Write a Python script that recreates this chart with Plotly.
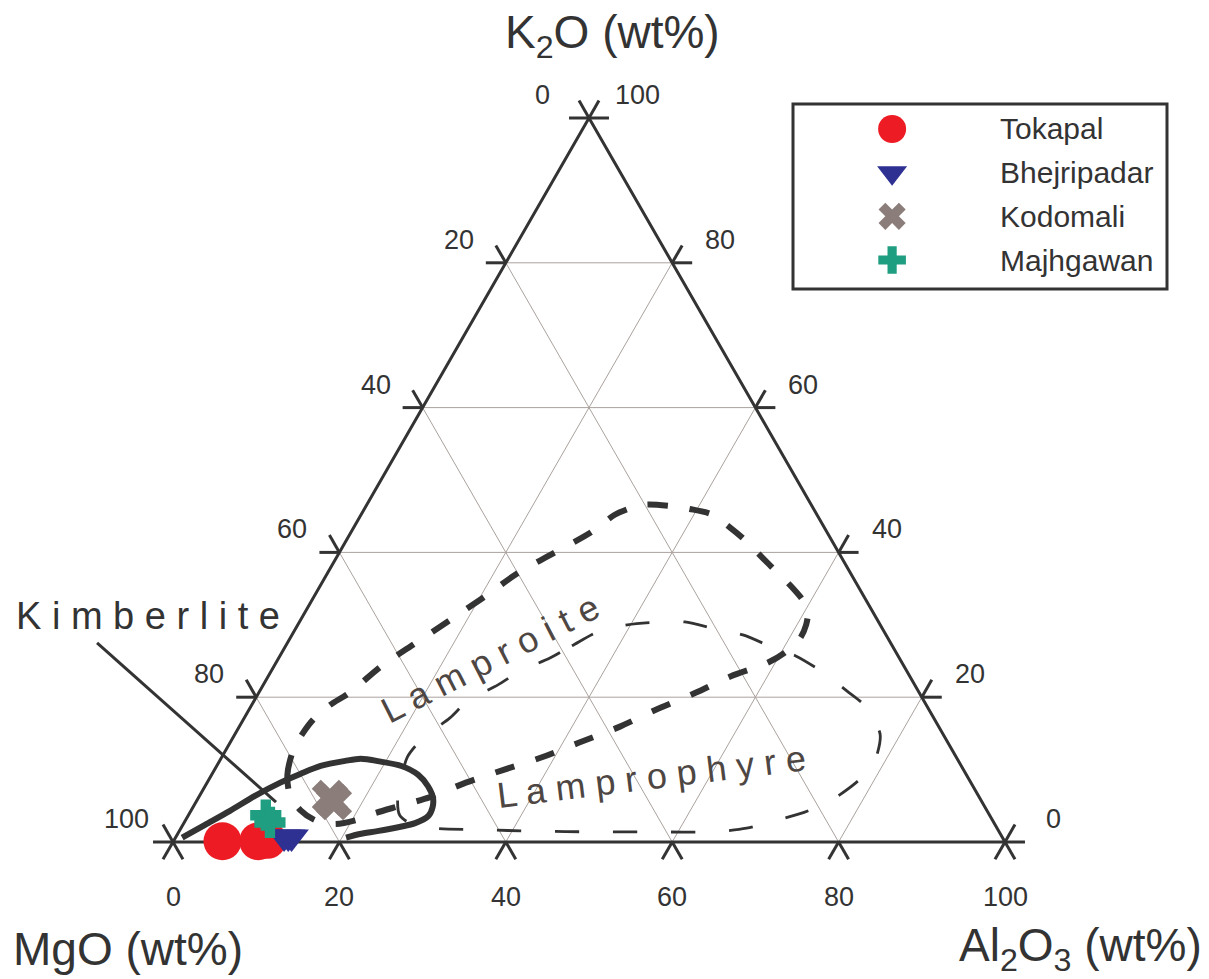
import plotly.graph_objects as go

# ---------------- data (wt%) ----------------
series_names = ["Tokapal", "Bhejripadar", "Kodomali", "Majhgawan"]
series_colors = ["#ed1c24", "#2e3192", "#8b7e7a", "#1f9e81"]
series_symbols = ["circle", "triangle-down", "x", "cross"]

tokapal_mgo = [94.0, 89.7, 88.5]
tokapal_al2o3 = [5.9, 10.2, 11.2]
tokapal_k2o = [0.1, 0.1, 0.3]

bhejripadar_mgo = [86.3, 85.8, 85.4]
bhejripadar_al2o3 = [13.0, 13.5, 13.9]
bhejripadar_k2o = [0.7, 0.7, 0.7]

kodomali_mgo = [78.1, 77.9]
kodomali_al2o3 = [15.8, 16.6]
kodomali_k2o = [6.1, 5.5]

majhgawan_mgo = [87.0, 87.0]
majhgawan_al2o3 = [9.3, 10.3]
majhgawan_k2o = [3.7, 2.7]

# field boundaries (Al2O3, K2O; MgO is the remainder to 100)
kimberlite_al2o3 = [0.8, 2.7, 4.7, 6.7, 8.8, 10.6, 12.5, 15.1, 16.8, 19.4, 22.2,
                    24.8, 26.8, 28.2, 28.8, 28.9, 27.8, 26.3, 23.8, 21.9, 20.5]
kimberlite_k2o = [0.6, 2.4, 4.3, 6.4, 8.2, 9.4, 10.5, 11.2, 11.5, 11.1, 10.5,
                  9.3, 7.7, 6.1, 4.8, 3.6, 2.6, 2.1, 1.5, 1.1, 0.6]

lamproite_al2o3 = [10.8, 9.1, 8.1, 8.1, 8.4, 9.4, 10.9, 12.9, 15.2, 18.0,
                   20.6, 22.9, 25.8, 28.8, 30.5, 31.9, 33.5, 36.7, 39.1, 42.0,
                   45.3, 47.6, 52.8, 56.4, 59.0, 60.4, 61.1, 61.3, 60.4, 59.0,
                   55.6, 52.5, 48.8, 45.7, 41.9, 38.5, 34.6, 31.1, 27.8, 24.8,
                   22.3, 20.4, 18.2, 15.6, 13.1, 10.8]
lamproite_k2o = [6.5, 9.3, 12.7, 15.1, 16.9, 18.9, 20.6, 24.3, 27.2, 30.7,
                 34.0, 37.2, 39.9, 42.7, 45.2, 46.1, 46.6, 46.4, 46.0, 45.3,
                 43.4, 41.9, 38.1, 35.5, 33.4, 31.8, 30.0, 28.2, 26.1, 24.7,
                 22.9, 20.6, 18.2, 15.9, 13.7, 11.7, 9.9, 8.2, 6.2, 5.0,
                 4.0, 3.0, 2.5, 3.0, 4.4, 6.5]

lamprophyre_al2o3 = [32.6, 34.4, 36.9, 39.6, 43.5, 46.3, 51.0, 54.2, 59.6, 62.0,
                     67.0, 70.5, 73.8, 76.1, 77.6, 78.5, 78.8, 78.0, 76.0, 73.8,
                     70.5, 68.0, 64.2, 57.2, 49.9, 42.9, 35.8, 30.4, 27.6, 25.4,
                     24.1, 23.4, 22.3, 22.9, 24.7, 25.7, 28.2, 29.9, 32.6]
lamprophyre_k2o = [25.4, 27.1, 29.3, 30.0, 30.4, 30.4, 29.3, 28.6, 26.5, 25.7,
                   23.1, 20.9, 18.8, 16.6, 14.8, 12.4, 10.4, 8.2, 5.5, 4.1,
                   2.8, 1.9, 1.4, 1.4, 1.4, 1.5, 1.7, 1.9, 2.4, 3.7,
                   5.8, 7.9, 11.7, 14.4, 17.1, 19.5, 21.7, 23.6, 25.4]

tick_values = [0, 20, 40, 60, 80, 100]
grid_values = [20, 40, 60, 80]

# field label positions (Al2O3, K2O)
lamproite_label = (25.5, 25.3)
lamprophyre_label = (53.0, 9.1)

FONT = "Liberation Sans, Arial, Helvetica, sans-serif"
DARK = "#333333"
GRID = "#aaa29e"
TICK_LEN = 2.4


def to_xy(mgo, al2o3, k2o):
    xs, ys = [], []
    for m, a, k in zip(mgo, al2o3, k2o):
        s = m + a + k
        xs.append(100.0 * (a + k / 2.0) / s)
        ys.append(100.0 * k / s)
    return xs, ys


def pt(m, a, k):
    x, y = to_xy([m], [a], [k])
    return x[0], y[0]


def field_xy(al, k):
    return to_xy([100 - a - kk for a, kk in zip(al, k)], al, k)


def segs(pairs):
    xs, ys = [], []
    for p, q in pairs:
        (x0, y0), (x1, y1) = pt(*p), pt(*q)
        xs += [x0, x1, None]
        ys += [y0, y1, None]
    return xs, ys


def spaced(word):
    return " ".join(word)


fig = go.Figure()

# grid lines
grid_pairs = []
for t in grid_values:
    grid_pairs.append(((100 - t, 0, t), (0, 100 - t, t)))      # const K2O
    grid_pairs.append(((t, 0, 100 - t), (t, 100 - t, 0)))      # const MgO
    grid_pairs.append(((100 - t, t, 0), (0, t, 100 - t)))      # const Al2O3
gx, gy = segs(grid_pairs)
fig.add_trace(go.Scatter(x=gx, y=gy, mode="lines", line=dict(color=GRID, width=1),
                         hoverinfo="skip", showlegend=False))

# frame
fx, fy = to_xy([100, 0, 0, 100], [0, 100, 0, 0], [0, 0, 100, 0])
fig.add_trace(go.Scatter(x=fx, y=fy, mode="lines", line=dict(color=DARK, width=3),
                         hoverinfo="skip", showlegend=False))

# ticks (outward extensions of grid directions)
d = TICK_LEN
tick_pairs = []
for t in tick_values:
    L = (t, 0, 100 - t)
    tick_pairs.append((L, (t + d, -d, 100 - t)))
    tick_pairs.append((L, (t, -d, 100 - t + d)))
    R = (0, 100 - t, t)
    tick_pairs.append((R, (-d, 100 - t + d, t)))
    tick_pairs.append((R, (-d, 100 - t, t + d)))
    B = (100 - t, t, 0)
    tick_pairs.append((B, (100 - t, t + d, -d)))
    tick_pairs.append((B, (100 - t + d, t, -d)))
tx, ty = segs(tick_pairs)
fig.add_trace(go.Scatter(x=tx, y=ty, mode="lines", line=dict(color=DARK, width=3),
                         hoverinfo="skip", showlegend=False))

# fields
lx, ly = field_xy(lamprophyre_al2o3, lamprophyre_k2o)
fig.add_trace(go.Scatter(x=lx, y=ly, mode="lines",
                         line=dict(color=DARK, width=2.8, dash="24px,34px", shape="spline", smoothing=0.8),
                         hoverinfo="skip", showlegend=False))
lx, ly = field_xy(lamproite_al2o3, lamproite_k2o)
fig.add_trace(go.Scatter(x=lx, y=ly, mode="lines",
                         line=dict(color=DARK, width=6, dash="20px,22px", shape="spline", smoothing=0.8),
                         hoverinfo="skip", showlegend=False))
lx, ly = field_xy(kimberlite_al2o3, kimberlite_k2o)
fig.add_trace(go.Scatter(x=lx, y=ly, mode="lines",
                         line=dict(color=DARK, width=6, shape="spline", smoothing=0.8),
                         hoverinfo="skip", showlegend=False))

# leader line for Kimberlite label
fig.add_trace(go.Scatter(x=[-9.13, 12.38], y=[27.49, 5.52], mode="lines",
                         line=dict(color=DARK, width=3), hoverinfo="skip", showlegend=False))

# samples
samples = [
    (tokapal_mgo, tokapal_al2o3, tokapal_k2o, 38),
    (bhejripadar_mgo, bhejripadar_al2o3, bhejripadar_k2o, 30),
    (kodomali_mgo, kodomali_al2o3, kodomali_k2o, 32),
    (majhgawan_mgo, majhgawan_al2o3, majhgawan_k2o, 26),
]
for (m, a, k, size), name, col, sym in zip(samples, series_names, series_colors, series_symbols):
    x, y = to_xy(m, a, k)
    fig.add_trace(go.Scatter(x=x, y=y, mode="markers", name=name,
                             marker=dict(symbol=sym, color=col, size=size, line=dict(width=0)),
                             showlegend=False, cliponaxis=False))

# manual legend (own small axes)
legend_sizes = [28, 26, 24, 23]
for i, (name, col, sym, size) in enumerate(zip(series_names, series_colors, series_symbols, legend_sizes)):
    fig.add_trace(go.Scatter(x=[0.265], y=[i], xaxis="x2", yaxis="y2", mode="markers",
                             marker=dict(symbol=sym, color=col, size=size, line=dict(width=0)),
                             showlegend=False, hoverinfo="skip", cliponaxis=False))

annotations = []
for i, name in enumerate(series_names):
    annotations.append(dict(x=0.548, y=i, xref="x2", yref="y2", text=name, showarrow=False,
                            xanchor="left", yanchor="middle",
                            font=dict(family=FONT, size=30, color=DARK)))

# tick labels
for t in tick_values:
    x, y = pt(t, 0, 100 - t)
    annotations.append(dict(x=x, y=y, xref="x", yref="y", text=str(t), showarrow=False,
                            xshift=-47, yshift=23, font=dict(family=FONT, size=27, color=DARK)))
    x, y = pt(0, 100 - t, t)
    annotations.append(dict(x=x, y=y, xref="x", yref="y", text=str(t), showarrow=False,
                            xshift=48, yshift=23, font=dict(family=FONT, size=27, color=DARK)))
    x, y = pt(100 - t, t, 0)
    annotations.append(dict(x=x, y=y, xref="x", yref="y", text=str(t), showarrow=False,
                            yshift=-55, font=dict(family=FONT, size=27, color=DARK)))

# axis titles
annotations += [
    dict(x=612 / 1209, y=1 - 35 / 979, xref="paper", yref="paper", text="K<sub>2</sub>O (wt%)",
         showarrow=False, xanchor="center", yanchor="middle", font=dict(family=FONT, size=46, color=DARK)),
    dict(x=127.5 / 1209, y=1 - 948.5 / 979, xref="paper", yref="paper", text="MgO (wt%)",
         showarrow=False, xanchor="center", yanchor="middle", font=dict(family=FONT, size=46, color=DARK)),
    dict(x=1080 / 1209, y=1 - 948.5 / 979, xref="paper", yref="paper",
         text="Al<sub>2</sub>O<sub>3</sub> (wt%)",
         showarrow=False, xanchor="center", yanchor="middle", font=dict(family=FONT, size=46, color=DARK)),
    dict(x=147.5 / 1209, y=1 - 615.5 / 979, xref="paper", yref="paper",
         text=spaced("Kimberlite"),
         showarrow=False, xanchor="center", yanchor="middle", font=dict(family=FONT, size=38, color=DARK)),
]
x, y = field_xy([lamproite_label[0]], [lamproite_label[1]])
annotations.append(dict(x=x[0], y=y[0], xref="x", yref="y", text=spaced("Lamproite"),
                        showarrow=False, textangle=-27, font=dict(family=FONT, size=36, color="#4e4642")))
x, y = field_xy([lamprophyre_label[0]], [lamprophyre_label[1]])
annotations.append(dict(x=x[0], y=y[0], xref="x", yref="y", text=spaced("Lamprophyre"),
                        showarrow=False, textangle=-7, font=dict(family=FONT, size=36, color="#4e4642")))

fig.update_layout(
    width=1209, height=979,
    margin=dict(l=0, r=0, t=0, b=0),
    paper_bgcolor="white", plot_bgcolor="white",
    showlegend=False,
    xaxis=dict(range=[-20.793, 124.519], visible=False, domain=[0, 1]),
    yaxis=dict(range=[-18.923, 116.298], visible=False, domain=[0, 1]),
    xaxis2=dict(range=[0, 1], visible=False, domain=[793 / 1209, 1167 / 1209], anchor="y2"),
    yaxis2=dict(range=[3.664, -0.572], visible=False, domain=[1 - 289 / 979, 1 - 104 / 979], anchor="x2"),
    annotations=annotations,
    shapes=[dict(type="rect", xref="paper", yref="paper",
                 x0=793 / 1209, x1=1167 / 1209, y0=1 - 289 / 979, y1=1 - 104 / 979,
                 line=dict(color=DARK, width=3), layer="above")],
)

fig.write_html("out.html", config={"displayModeBar": False},
               post_script="document.body.style.margin='0';")
